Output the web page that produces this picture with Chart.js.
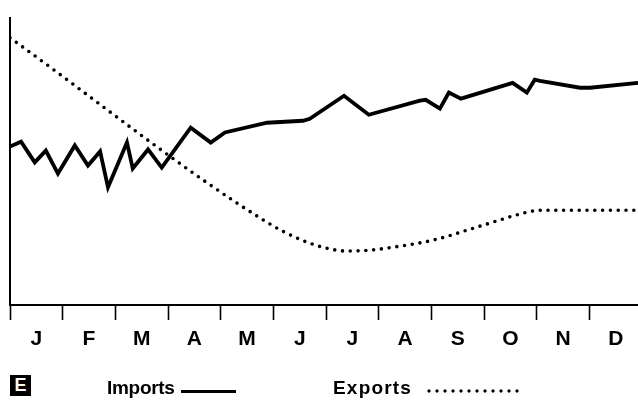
<!DOCTYPE html>
<html>
<head>
<meta charset="utf-8">
<script src="https://cdn.jsdelivr.net/npm/chart.js@4.4.1/dist/chart.umd.min.js"></script>
<style>
  html, body { margin: 0; padding: 0; background: #fff; }
  #wrap { position: relative; width: 638px; height: 401px; overflow: hidden; }
  #chart { position: absolute; left: 0; top: 0; }
  .leg { position: absolute; font-family: "Liberation Sans", Arial, sans-serif; font-weight: bold; color: #000; line-height: 1; }
  #boxE { left: 10px; top: 375px; width: 21px; height: 21px; background: #000; color: #fff;
          font-size: 18px; line-height: 21px; text-align: center; }
  #labImp { left: 107px; top: 378px; font-size: 19px; letter-spacing: -0.3px; }
  #lineImp { position: absolute; left: 181px; top: 390px; width: 55px; height: 2.5px; background: #000; }
  #labExp { left: 333px; top: 378px; font-size: 19px; letter-spacing: 1.2px; }
  #lineExp { position: absolute; left: 425px; top: 389px; width: 98px; height: 4px;
             background: radial-gradient(circle, #000 1.3px, rgba(0,0,0,0) 1.9px) 0 0 / 8px 4px repeat-x; }
</style>
</head>
<body>
<div id="wrap">
  <canvas id="chart" width="638" height="401"></canvas>
  <div class="leg" id="boxE">E</div>
  <div class="leg" id="labImp">Imports</div>
  <div id="lineImp"></div>
  <div class="leg" id="labExp">Exports</div>
  <div id="lineExp"></div>
</div>
<script>
// month letters, one per tick interval
const months = ['J', 'F', 'M', 'A', 'M', 'J', 'J', 'A', 'S', 'O', 'N', 'D'];

// x = months since start of January, y = index (no scale shown)
const importsX = [0, 0.21, 0.47, 0.68, 0.91, 1.23, 1.48, 1.71, 1.86, 2.22, 2.33, 2.62, 2.88,
  3.43, 3.81, 4.08, 4.88, 5.56, 5.69, 6.34, 6.81, 7.78, 7.89, 8.16, 8.33, 8.56,
  9.54, 9.81, 9.96, 10.06, 10.82, 11.01, 11.92];
const importsY = [55.2, 56.9, 49.7, 53.8, 45.8, 55.6, 48.6, 53.5, 41.0, 56.6, 47.6, 54.2, 47.9,
  61.8, 56.6, 60.1, 63.5, 64.2, 64.9, 72.9, 66.3, 71.2, 71.5, 68.4, 74.0, 71.9,
  77.4, 74.0, 78.5, 78.1, 75.7, 75.7, 77.4];

const exportsX = [0, 4.88, 5.50, 5.94, 6.39, 6.83, 7.40, 8.03, 8.98, 9.81, 10.06, 11.92];
const exportsY = [93.1, 28.8, 22.9, 20.1, 18.8, 19.1, 20.5, 22.6, 27.8, 32.3, 33.0, 33.0];

const X_MAX = 11.92;

function pts(xs, ys) {
  return xs.map((x, i) => ({ x: x, y: ys[i] }));
}

const chart = new Chart(document.getElementById('chart'), {
  type: 'line',
  data: {
    datasets: [
      {
        label: 'Imports',
        data: pts(importsX, importsY),
        borderColor: '#000',
        borderWidth: 3.8,
        borderJoinStyle: 'miter',
        pointRadius: 0,
        tension: 0,
        fill: false,
      },
      {
        label: 'Exports',
        data: pts(exportsX, exportsY),
        borderColor: '#000',
        borderWidth: 3.6,
        borderCapStyle: 'round',
        borderDash: [0, 7.8],
        pointRadius: 0,
        cubicInterpolationMode: 'monotone',
        fill: false,
      },
    ],
  },
  options: {
    responsive: false,
    animation: false,
    events: [],
    layout: { padding: { top: 18, left: 10, right: 0, bottom: 51 } },
    plugins: { legend: { display: false }, tooltip: { enabled: false } },
    scales: {
      y: {
        min: 0,
        max: 100,
        ticks: { display: false },
        grid: { display: false },
        border: { display: true, color: '#000', width: 2 },
        afterFit: (s) => { s.width = 0; },
      },
      x: {
        type: 'linear',
        position: 'bottom',
        min: 0,
        max: X_MAX,
        ticks: { display: false },
        grid: { display: true, drawOnChartArea: false, drawTicks: true, tickLength: 15, tickColor: '#000', tickWidth: 1.6 },
        border: { display: true, color: '#000', width: 2 },
        afterBuildTicks: (s) => { s.ticks = months.map((m, i) => ({ value: i })); },
        afterFit: (s) => { s.height = 15; },
      },
      xl: {
        type: 'linear',
        position: 'bottom',
        min: 0,
        max: X_MAX,
        grid: { display: false, drawTicks: false },
        border: { display: false },
        ticks: {
          color: '#000',
          padding: 7,
          maxRotation: 0,
          autoSkip: false,
          font: { family: '"Liberation Sans", Arial, sans-serif', weight: 'bold', size: 21 },
          callback: (v, i) => months[i],
        },
        afterBuildTicks: (s) => { s.ticks = months.map((m, i) => ({ value: i + 0.5 })); },
        afterFit: (s) => { s.height = 30; },
      },
    },
  },
});
</script>
</body>
</html>
